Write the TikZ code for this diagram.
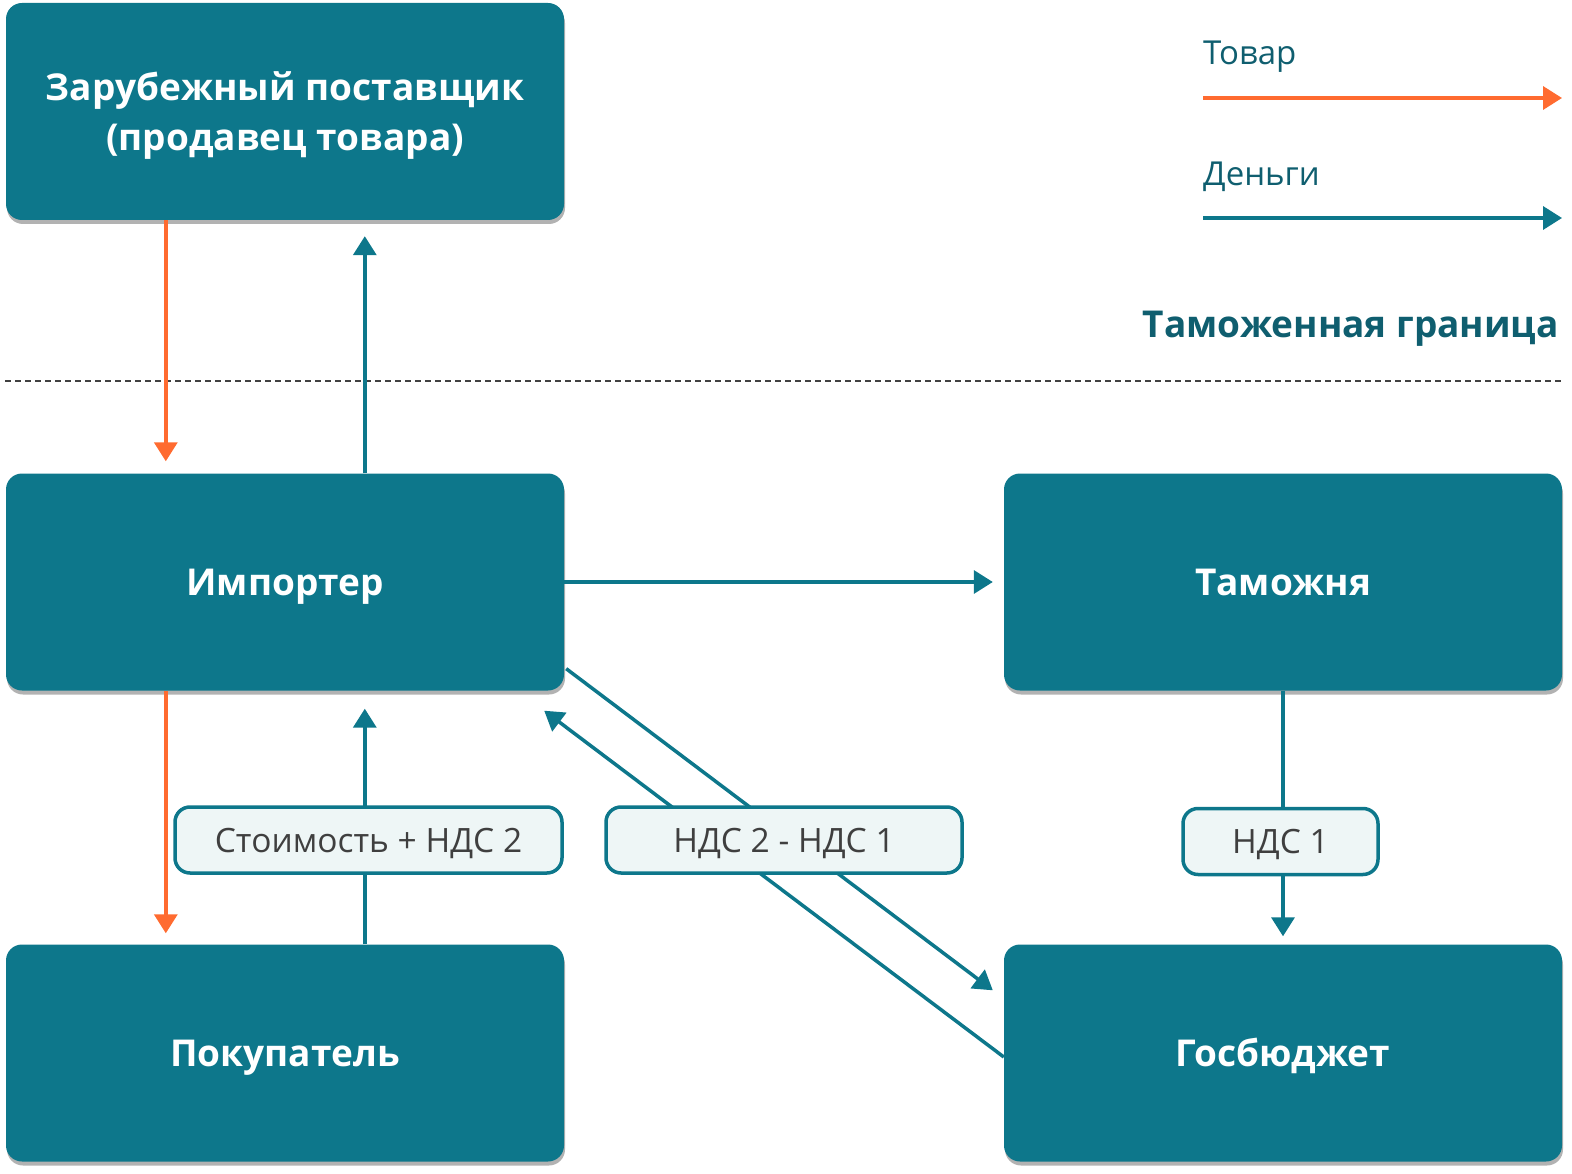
\documentclass[tikz,border=0pt]{standalone}
\usepackage{fontspec}
\setmainfont{Open Sans}
\usetikzlibrary{arrows.meta,calc,shadows}
\definecolor{boxteal}{HTML}{0D778B}
\definecolor{darkteal}{HTML}{0F5E6F}
\definecolor{tovarc}{HTML}{FF6B30}
\definecolor{lblfill}{HTML}{EEF6F6}
\definecolor{lbltext}{HTML}{3F3F3F}

\begin{document}
\begin{tikzpicture}[x=1pt,y=-1pt]
    \tikzstyle{every node}+=[inner sep=0pt]
    \tikzstyle{box}=[rectangle, rounded corners=16pt, fill=boxteal, minimum width=558pt, minimum height=217pt, text=white, align=center, font=\fontsize{37}{50}\selectfont\bfseries, drop shadow={shadow xshift=1pt, shadow yshift=-4pt, opacity=0.3, fill=black}]
    \tikzstyle{onerow}=[text height=27pt, text depth=0pt]
    \tikzstyle{lbl}=[rectangle, rounded corners=15pt, draw=boxteal, line width=3.5pt, fill=lblfill, text=lbltext, minimum height=66pt, text height=24pt, text depth=0pt, font=\fontsize{33.5}{38}\selectfont]
    \tikzstyle{tovar}=[tovarc, line width=3.5pt, -{Triangle[length=19pt,width=23pt]}]
    \tikzstyle{dengi}=[boxteal, line width=3.5pt, -{Triangle[length=19pt,width=23pt]}]
    \useasboundingbox (0,0) rectangle (1572,1174);
    \node [box, text depth=0pt] (postav) at (285,111.5) {Зарубежный поставщик\\(продавец товара)};
    \node [box, onerow] (import) at (285,582) {Импортер};
    \node [box, onerow] (tamozh) at (1283,582) {Таможня};
    \node [box, onerow] (pokup) at (285,1053) {Покупатель};
    \node [box, onerow] (budzhet) at (1283,1053) {Госбюджет};
    \draw [darkgray, line width=1.3pt, dash pattern=on 6pt off 4pt] (5,381) -- (1562,381);
    \node [anchor=east, text=darkteal, font=\fontsize{37}{42}\selectfont\bfseries] (granica) at (1559,329) {Таможенная граница};
    \node [anchor=west, text=darkteal, font=\fontsize{33}{38}\selectfont] (tovarlg) at (1203,57) {Товар};
    \node [anchor=west, text=darkteal, font=\fontsize{33}{38}\selectfont] (dengilg) at (1203,177) {Деньги};
    \coordinate (t1) at (1203,98);
    \coordinate (t2) at (1562,98);
    \coordinate (d1) at (1203,218);
    \coordinate (d2) at (1562,218);
    \draw [tovar] (t1) -- (t2);
    \draw [dengi] (d1) -- (d2);
    \draw [tovar, shorten >=12pt] ($(postav.south west)+(160,0)$) -- ($(import.north west)+(160,0)$);
    \draw [dengi, shorten >=16pt] ($(import.north west)+(359,0)$) -- ($(postav.south west)+(359,0)$);
    \draw [dengi, shorten >=11pt] (import.east) -- (tamozh.west);
    \draw [tovar, shorten >=11pt] ($(import.south west)+(160,0)$) -- ($(pokup.north west)+(160,0)$);
    \draw [dengi, shorten >=18pt] ($(pokup.north west)+(359,0)$) -- ($(import.south west)+(359,0)$);
    \draw [dengi, shorten >=8pt] (tamozh.south) -- (budzhet.north);
    \draw [dengi] ($(import.south east)+(2,-22)$) -- ($(budzhet.north west)+(-11,46)$);
    \draw [dengi] ($(budzhet.west)+(0,4)$) -- ($(import.south east)+(-20,20)$);
    \node [lbl, minimum width=387pt] (l1) at (368.5,840) {Стоимость + НДС 2};
    \node [lbl, minimum width=356pt] (l2) at (784,840) {НДС 2 - НДС 1};
    \node [lbl, minimum width=195pt] (l3) at (1280.5,841.5) {НДС 1};
\end{tikzpicture}
\end{document}
